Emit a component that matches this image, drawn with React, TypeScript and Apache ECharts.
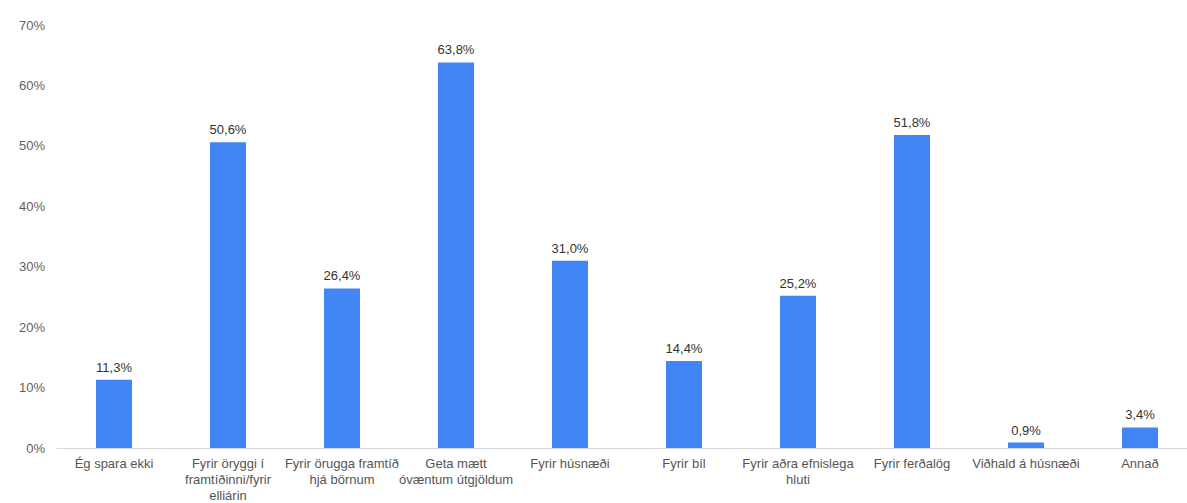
import React, { useEffect, useRef } from "react";
import * as echarts from "echarts";

const categories = [
  "Ég spara ekki",
  "Fyrir öryggi í\nframtíðinni/fyrir\nelliárin",
  "Fyrir örugga framtíð\nhjá börnum",
  "Geta mætt\nóvæntum útgjöldum",
  "Fyrir húsnæði",
  "Fyrir bíl",
  "Fyrir aðra efnislega\nhluti",
  "Fyrir ferðalög",
  "Viðhald á húsnæði",
  "Annað",
];
const values = [11.3, 50.6, 26.4, 63.8, 31.0, 14.4, 25.2, 51.8, 0.9, 3.4];
const yTicks = [0, 10, 20, 30, 40, 50, 60, 70];

const FONT = "Arial, 'Liberation Sans', sans-serif";

export default function App() {
  const ref = useRef<HTMLDivElement>(null);
  useEffect(() => {
    document.body.style.margin = "0";
    document.body.style.overflow = "hidden";
    const chart = echarts.init(ref.current!, null, { renderer: "svg" });
    chart.setOption({
      animation: false,
      backgroundColor: "#ffffff",
      grid: { left: 57, right: 0, top: 25, bottom: 53, containLabel: false },
      xAxis: {
        type: "category",
        data: categories,
        axisLine: { lineStyle: { color: "#d9d9d9", width: 1 } },
        axisTick: { show: false },
        axisLabel: {
          interval: 0,
          color: "#555555",
          fontSize: 13,
          fontFamily: FONT,
          lineHeight: 16,
          margin: 7,
          align: "center",
        },
      },
      yAxis: {
        type: "value",
        min: yTicks[0],
        max: yTicks[yTicks.length - 1],
        interval: 10,
        axisLine: { show: false },
        axisTick: { show: false },
        splitLine: { show: false },
        axisLabel: {
          color: "#5f5f5f",
          fontSize: 13,
          fontFamily: FONT,
          margin: 12,
          formatter: (v: number) => `${v}%`,
        },
      },
      series: [
        {
          type: "bar",
          data: values,
          barWidth: 36,
          itemStyle: { color: "#4285f4" },
          label: {
            show: true,
            position: "top",
            distance: 6,
            color: "#333333",
            fontSize: 13,
            fontFamily: FONT,
            formatter: (p: any) => `${Number(p.value).toFixed(1).replace(".", ",")}%`,
          },
        },
      ],
    });
    return () => chart.dispose();
  }, []);
  return (
    <div style={{ width: 1187, height: 503, overflow: "hidden" }}>
      <div ref={ref} style={{ width: 1197, height: 503 }} />
    </div>
  );
}
